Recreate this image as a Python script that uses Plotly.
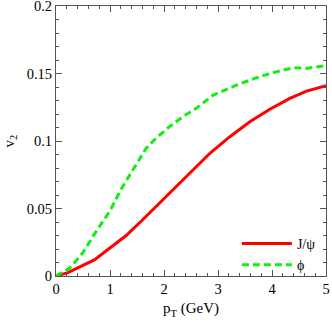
import plotly.graph_objects as go

jpsi_pt = [0.0, 0.22, 0.71, 1.02, 1.30, 1.60, 1.85, 2.16, 2.48, 2.85, 3.22, 3.59, 3.96, 4.33, 4.64, 5.0]
jpsi_v2 = [0.0, 0.0025, 0.0119, 0.0217, 0.030, 0.0415, 0.0514, 0.0637, 0.076, 0.0909, 0.1032, 0.1143, 0.1235, 0.1316, 0.137, 0.141]

phi_pt = [0.0, 0.25, 0.49, 0.74, 0.99, 1.23, 1.48, 1.67, 1.85, 2.10, 2.35, 2.59, 2.91, 3.35, 3.72, 4.09, 4.40, 4.64, 5.0]
phi_v2 = [0.0, 0.0057, 0.0168, 0.0328, 0.0476, 0.066, 0.0822, 0.0946, 0.102, 0.1106, 0.118, 0.124, 0.134, 0.1415, 0.147, 0.1514, 0.1543, 0.1538, 0.1558]

x_ticks = [0, 1, 2, 3, 4, 5]
y_ticks = [0, 0.05, 0.1, 0.15, 0.2]

font = "Liberation Serif, Times New Roman, serif"

fig = go.Figure()
fig.add_trace(go.Scatter(x=jpsi_pt, y=jpsi_v2, mode="lines", name="J/\u03c8",
                         line=dict(color="#ff0000", width=3)))
fig.add_trace(go.Scatter(x=phi_pt, y=phi_v2, mode="lines", name="\u03d5",
                         line=dict(color="#11ee11", width=3, dash="7px,4px")))

axis_common = dict(showline=True, linecolor="#555555", linewidth=1, mirror="allticks",
                   ticks="inside", tickcolor="#555555", ticklen=6, showgrid=False, zeroline=False,
                   automargin=False, ticklabeloverflow="allow",
                   tickfont=dict(family=font, size=14.5, color="black"))

fig.update_xaxes(range=[0, 5], tickvals=x_ticks, **axis_common,
                 minor=dict(ticks="inside", dtick=0.2, ticklen=3, tickcolor="#555555"),
                 title=dict(text="p<sub>T</sub> (GeV)", font=dict(family=font, size=15, color="black"), standoff=6))
fig.update_yaxes(range=[0, 0.2], tickvals=y_ticks, **axis_common,
                 minor=dict(ticks="inside", dtick=0.01, ticklen=3, tickcolor="#555555"),
                 title=dict(text="v<sub>2</sub>", font=dict(family=font, size=15, color="black"), standoff=8))

fig.update_layout(width=332, height=322, margin=dict(l=56, r=6, t=6, b=46, autoexpand=False),
                  paper_bgcolor="white", plot_bgcolor="white",
                  legend=dict(x=0.67, y=0.178, xanchor="left", yanchor="top", itemwidth=50,
                              bgcolor="rgba(0,0,0,0)", font=dict(family=font, size=14, color="black"),
                              tracegroupgap=0))
fig.write_html("out.html", config={"displayModeBar": False},
               post_script="document.body.style.margin='0';document.body.style.overflow='hidden';")
